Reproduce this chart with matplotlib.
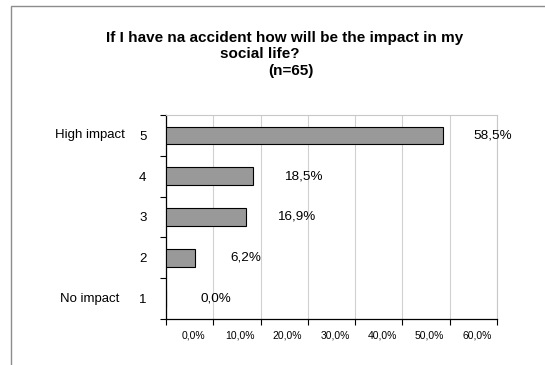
import matplotlib
matplotlib.use("Agg")
import matplotlib.pyplot as plt
import matplotlib.transforms as mtransforms
from matplotlib.patches import Rectangle

plt.rcParams['font.family'] = ['Liberation Sans', 'DejaVu Sans']

categories = [1, 2, 3, 4, 5]
values = [0.0, 6.2, 16.9, 18.5, 58.5]
value_labels = ["0,0%", "6,2%", "16,9%", "18,5%", "58,5%"]
xtick_values = [0, 10, 20, 30, 40, 50, 60, 70]
xtick_labels = ["0,0%", "10,0%", "20,0%", "30,0%", "40,0%", "50,0%", "60,0%", ""]
end_labels = {5: "High impact", 1: "No impact"}
title_lines = ["If I have na accident how will be the impact in my", "social life?", "(n=65)"]

fig = plt.figure(figsize=(5.45, 3.65), dpi=100)
fig.patch.set_facecolor('white')

# outer frame (only top and left visible)
fig.add_artist(Rectangle((11/545, -0.1), 1.2, (365-6)/365 + 0.1, transform=fig.transFigure,
                         fill=False, edgecolor='#8c8c8c', linewidth=1.0))

ax = fig.add_axes([166/545, 46/365, 331/545, 204/365])
ax.barh(categories, values, height=0.43, color='#999999', edgecolor='black', linewidth=0.8, zorder=3)

ax.set_xlim(0, 70)
ax.set_ylim(0.5, 5.5)

ax.set_xticks(xtick_values)
ax.set_xticklabels(xtick_labels, fontsize=7.5)
ax.tick_params(axis='x', direction='out', length=4, width=0.8, color='black', pad=4)
offset = mtransforms.ScaledTranslation(27/100, 0, fig.dpi_scale_trans)
for lab in ax.get_xticklabels():
    lab.set_transform(lab.get_transform() + offset)

ax.set_yticks(categories)
ax.set_yticklabels([str(c) for c in categories], fontsize=9.5)
ax.tick_params(axis='y', which='major', length=0, pad=14)
ax.set_yticks([c - 0.5 for c in categories] + [5.5], minor=True)
ax.tick_params(axis='y', which='minor', direction='out', length=4, width=0.8, color='black')

ax.grid(axis='x', color='#d0d0d0', linewidth=0.8, zorder=0)
ax.spines['left'].set_color('black')
ax.spines['bottom'].set_color('black')
ax.spines['left'].set_linewidth(0.9)
ax.spines['bottom'].set_linewidth(0.9)
ax.spines['top'].set_color('#c8c8c8')
ax.spines['right'].set_color('#c8c8c8')

for c, v, lbl in zip(categories, values, value_labels):
    ax.annotate(lbl, xy=(v, c), xytext=(36, 0), textcoords='offset points',
                ha='center', va='center', fontsize=9.7, annotation_clip=False)

blend = mtransforms.blended_transform_factory(fig.transFigure, ax.transData)
for c, txt in end_labels.items():
    ax.text(90/545, c, txt, transform=blend, ha='center', va='center', fontsize=9.5)

fig.text(284.5/545, 1 - 37.7/365, title_lines[0], ha='center', va='center', fontsize=11, fontweight='bold')
fig.text(260/545, 1 - 54/365, title_lines[1], ha='center', va='center', fontsize=11, fontweight='bold')
fig.text(291/545, 1 - 71.5/365, title_lines[2], ha='center', va='center', fontsize=11, fontweight='bold')

fig.savefig('out.png', dpi=100, facecolor='white')
